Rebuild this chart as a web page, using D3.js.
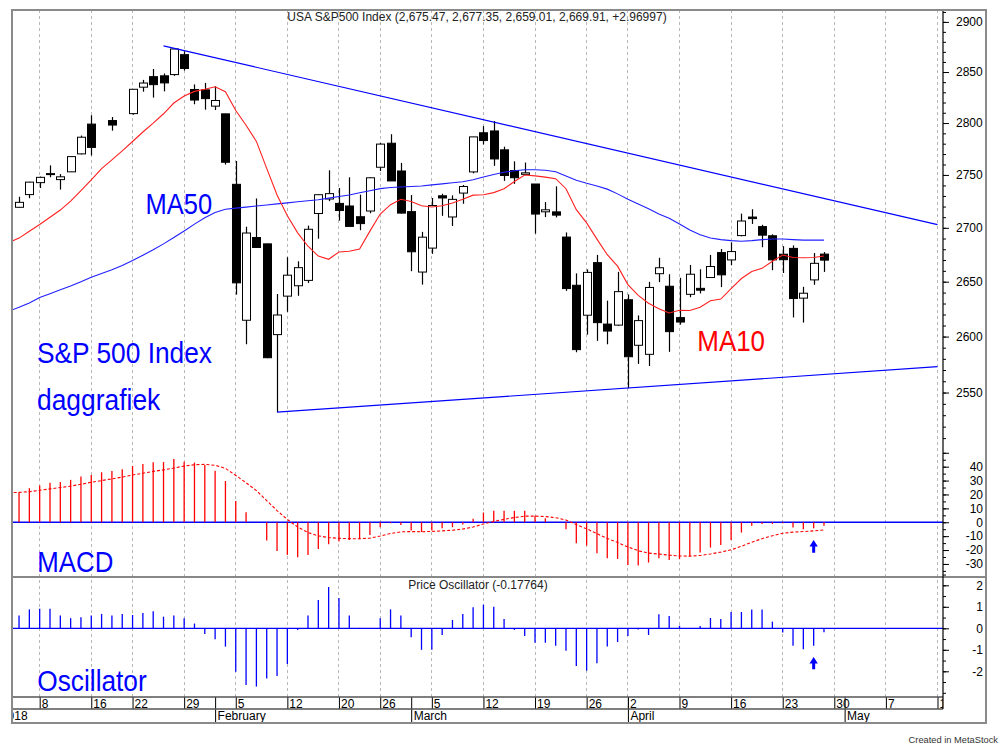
<!DOCTYPE html>
<html>
<head>
<meta charset="utf-8">
<script src="https://d3js.org/d3.v7.min.js"></script>
<style>
body { margin: 0; background: #fff; }
svg { display: block; }
</style>
</head>
<body>
<svg id="chart" width="1000" height="752"></svg>
<script>
// trading days shown on the time axis (2018), per month
var tradingDays = [
  [0, [2,3,4,5,8,9,10,11,12,16,17,18,19,22,23,24,25,26,29,30,31]],
  [1, [1,2,5,6,7,8,9,12,13,14,15,16,20,21,22,23,26,27,28]],
  [2, [1,2,5,6,7,8,9,12,13,14,15,16,19,20,21,22,23,26,27,28,29]],
  [3, [2,3,4,5,6,9,10,11,12,13,16,17,18,19,20,23,24,25,26,27,30]],
  [4, [1,2,3,4,7,8,9,10,11,14]]
];
var monthLabels = ["2018", "February", "March", "April", "May"];

// daily series, Jan 3 .. Apr 27 (null = not drawn)
var openV = [null,2719.31,2731.33,2742.67,2751.15,2745.55,2752.97,2770.18,2798.96,null,2802.40,null,2809.16,2835.05,2845.42,2846.24,2847.48,2867.23,2832.74,2832.41,
  2816.45,2808.92,2741.06,2614.78,2690.95,2685.01,2601.78,2636.75,2646.27,2651.21,2713.46,2727.14,2722.99,2720.53,2710.42,2715.80,2757.37,2780.45,2753.78,
  2715.22,2658.89,2681.06,2730.18,2710.18,2732.75,2752.91,2790.54,2792.31,2774.06,2754.27,2750.57,2741.38,2715.05,2714.99,2691.36,2646.71,2619.35,2667.57,2611.30,2610.37,
  2633.45,2592.17,2584.04,2657.36,2645.82,2617.18,2638.41,2643.89,2653.83,2676.90,2670.10,2692.74,2710.11,2701.16,2692.56,2675.40,2680.80,2634.92,2651.65,2675.47];
var highV = [null,2729.29,2743.45,2748.51,2759.14,2750.80,2767.56,2787.85,2807.54,null,2805.83,null,2833.03,2842.24,2852.97,2848.56,2872.87,2870.62,2837.75,2839.26,
  2835.96,2808.92,2763.39,2701.04,2727.67,2685.27,2638.67,2672.61,2668.84,2702.10,2731.51,2754.42,2737.60,2747.75,2731.26,2747.76,2780.64,2789.15,2761.52,
  2730.89,2696.25,2728.09,2732.08,2730.60,2740.45,2786.57,2796.98,2801.90,2777.11,2763.03,2761.85,2741.38,2724.22,2739.14,2695.68,2657.67,2661.36,2674.78,2632.65,2659.07,
  2638.30,2619.14,2649.86,2672.08,2656.88,2653.55,2665.45,2661.43,2674.72,2680.26,2686.49,2713.34,2717.49,2702.84,2693.94,2682.86,2683.55,2645.30,2676.48,2677.35];
var lowV = [null,2719.07,2727.92,2737.60,2747.86,2736.06,2752.78,2769.64,2768.64,null,2792.56,null,2808.12,2830.59,2824.81,2830.94,2846.18,2851.48,2818.27,2813.04,
  2812.70,2759.97,2638.17,2593.07,2681.33,2580.56,2532.69,2622.45,2637.08,2648.87,2689.82,2725.11,2706.76,2701.29,2697.77,2713.74,2753.78,2744.22,2713.54,
  2659.65,2647.32,2675.75,2711.26,2701.74,2722.65,2751.54,2779.26,2758.68,2744.38,2741.47,2749.97,2694.59,2710.05,2709.79,2641.59,2585.89,2601.81,2596.12,2593.06,2609.72,
  2553.80,2575.49,2573.61,2649.58,2586.27,2610.79,2635.78,2639.25,2653.83,2645.05,2665.16,2692.05,2703.63,2681.90,2660.61,2657.99,2617.32,2612.67,2647.16,2659.01];
var closeV = [null,2723.99,2743.15,2747.71,2751.29,2748.23,2767.56,2786.24,2776.42,null,2798.03,null,2832.97,2839.13,2837.54,2839.25,2872.87,2853.53,2822.43,2823.81,
  2821.98,2762.13,2648.94,2695.14,2681.66,2581.00,2619.55,2656.00,2662.94,2698.63,2731.20,2732.22,2716.26,2701.33,2703.96,2747.30,2779.60,2744.28,2713.83,
  2677.67,2691.25,2720.94,2728.12,2726.80,2738.97,2786.57,2783.02,2765.31,2749.48,2747.33,2752.01,2712.92,2716.94,2711.93,2643.69,2588.26,2658.55,2612.62,2605.00,2640.87,
  2581.88,2614.45,2644.69,2662.84,2604.47,2613.16,2656.87,2642.19,2663.99,2656.30,2677.84,2706.39,2708.64,2693.13,2670.14,2670.29,2634.56,2639.40,2666.94,2669.91];
var ma10 = [2686.2,2690.4,2696.8,2703.1,2709.9,2716.7,2725.2,2735.1,2745.3,2756.0,2764.5,2773.1,2782.1,2791.3,2799.9,2809.0,2819.5,2826.3,2830.9,2833.0,
  2835.4,2830.6,2812.2,2797.8,2782.2,2756.3,2731.0,2711.3,2695.3,2682.8,2673.7,2670.7,2677.5,2678.1,2680.3,2696.9,2712.9,2721.8,2726.9,
  2724.8,2720.8,2719.6,2720.8,2723.4,2726.9,2730.8,2731.1,2733.2,2736.8,2743.8,2749.9,2749.1,2747.9,2746.4,2736.9,2717.1,2704.6,2689.4,2674.9,2664.3,
  2647.3,2637.4,2630.2,2625.3,2621.4,2623.9,2623.7,2626.6,2632.5,2634.1,2643.7,2652.9,2659.3,2662.3,2668.9,2674.6,2672.3,2672.1,2672.4,2673.7];
var ma50 = [2623,2626.5,2630.5,2635.5,2639,2642.5,2646,2650,2654,2657.5,2661,2665,2669.5,2674.5,2679.5,2685,2691,2697,2703.5,2709.5,
  2714.5,2717.5,2718.5,2719.5,2720.5,2721.5,2722.5,2723.5,2724.5,2725.5,2726.5,2728,2729.5,2731,2733,2735,2737,2738,2738.5,
  2739,2739.5,2740.5,2741.5,2742.5,2743.5,2745.5,2748,2750.5,2752.5,2754,2755,2755,2754.5,2753,2749,2745,2742,2739.5,2736.5,2732,
  2727,2722.5,2718,2713,2709,2703.5,2698,2693.5,2690.5,2689,2688,2687.5,2688,2689,2689.5,2689.5,2689,2688.5,2688.5,2688.5];
var macd = [null,21.6,24.5,26.4,28.5,29.0,30.5,32.9,34.0,36.0,36.9,38.1,40.5,42.0,43.2,43.4,45.6,43.5,42.9,41.2,
  37.0,29.7,15.3,7.2,0.3,-13.2,-20.6,-23.5,-25.2,-23.5,-19.2,-15.8,-13.9,-12.7,-12.2,-9.1,-3.6,-0.7,-1.9,
  -6.0,-7.0,-6.0,-4.3,-3.6,-1.7,2.6,7.0,8.2,8.2,8.2,8.2,4.6,2.9,0.3,-5.0,-15.1,-16.8,-22.3,-25.9,-26.4,
  -30.7,-31.2,-29.0,-25.9,-27.1,-26.6,-24.7,-21.8,-18.2,-16.3,-12.7,-7.4,-2.6,-1.2,-1.2,-0.7,-3.8,-5.0,-4.3,-2.6];
var signal = [21.3,21.5,22.0,23.0,24.0,25.0,26.0,27.3,28.8,30.0,31.2,32.5,34.0,35.3,36.6,37.7,39.0,40.5,41.4,41.7,
  41.0,38.8,33.7,28.4,22.8,15.6,8.4,2.0,-3.4,-7.4,-9.8,-11.0,-11.6,-11.8,-11.9,-11.4,-9.9,-8.1,-6.9,
  -6.7,-6.8,-6.6,-6.2,-5.7,-4.9,-3.4,-1.3,0.6,2.1,3.4,4.4,4.4,4.1,3.3,1.6,-1.7,-4.7,-8.2,-11.7,-14.6,
  -17.8,-20.5,-22.2,-22.9,-23.7,-24.3,-24.4,-23.9,-22.8,-21.5,-19.8,-17.3,-14.4,-11.8,-9.7,-7.9,-7.1,-6.7,-6.2,-5.5];
var priceOsc = [null,0.59,0.88,0.91,0.91,0.59,0.47,0.51,0.60,0.67,0.59,0.67,0.62,0.71,0.79,0.54,0.59,0.47,0.22,-0.26,
  -0.51,-0.85,-2.02,-2.64,-2.71,-2.34,-2.22,-1.66,-0.08,0.59,1.32,1.92,1.41,0.59,0.02,-0.03,0.47,0.88,0.59,
  -0.42,-1.00,-1.00,-0.31,0.39,0.67,0.98,1.10,1.00,0.43,-0.08,-0.36,-0.67,-0.67,-0.81,-1.04,-1.75,-1.97,-1.63,-0.85,-0.64,
  -0.36,-0.05,-0.31,0.65,0.57,0.12,0.01,0.11,0.48,0.43,0.76,0.76,0.88,0.88,0.31,-0.19,-0.81,-0.98,-0.81,-0.18];

// trend lines and arrows
var trendUpper = [["2018-01-25", 2876], ["2018-05-14", 2703]];
var trendLower = [["2018-02-09", 2532.7], ["2018-05-14", 2573]];
var arrowMacd = ["2018-04-26", -12.7, -21.9];
var arrowOsc = ["2018-04-26", -1.33, -1.91];

// ticks
var priceMajor = d3.range(2550, 2901, 50);
var priceMinor = d3.range(2510, 2911, 10);
var macdMajor = d3.range(-30, 51, 10);
var macdMinor = d3.range(-35, 51, 5);
var oscMajor = [-2, -1, 0, 1, 2];
var oscMinor = d3.range(-3, 2.51, 0.5);

var FONT = "'Liberation Sans', Arial, Helvetica, sans-serif";
var L = 12, R = 943, FR = 986, T = 10, FB = 723;
var pBot = 445, mBot = 577, oBot = 697, row1 = 709;

var days = [];
tradingDays.forEach(function(m) { m[1].forEach(function(d) { days.push(new Date(2018, m[0], d)); }); });
var fmt = d3.timeFormat("%Y-%m-%d");
var dayKeys = days.map(fmt);
var dataKeys = dayKeys.slice(1, 81);

var x = d3.scalePoint().domain(dayKeys).range([-1.6, 937.5]);
var yP = d3.scaleLog().domain([2504, 2912]).range([pBot, T]);
var yM = d3.scaleLinear().domain([-39.4, 55.6]).range([mBot, pBot]);
var yO = d3.scaleLinear().domain([-3.195, 2.386]).range([oBot, mBot]);

var svg = d3.select("#chart").attr("font-family", FONT);
var defs = svg.append("defs");
function clip(id, x0, y0, w, h) {
  defs.append("clipPath").attr("id", id).append("rect").attr("x", x0).attr("y", y0).attr("width", w).attr("height", h);
}
clip("cPlot", L, T, R - L, oBot - T);
clip("cPrice", L, T, R - L, pBot - T);
clip("cMacd", L, pBot, R - L, mBot - pBot);
clip("cOsc", L, mBot, R - L, oBot - mBot);
clip("cAxis", L, oBot, R - L, FB - oBot);

var weekStarts = dayKeys.filter(function(k, i) { return i === 0 || days[i].getDay() < days[i - 1].getDay(); });
var monthStarts = dayKeys.filter(function(k, i) { return i === 0 || days[i].getMonth() !== days[i - 1].getMonth(); });

// vertical grid
svg.append("g").attr("clip-path", "url(#cPlot)").selectAll("line").data(weekStarts).join("line")
  .attr("x1", function(d) { return x(d); }).attr("x2", function(d) { return x(d); })
  .attr("y1", T).attr("y2", oBot)
  .attr("stroke", "#b8b8b8").attr("stroke-dasharray", "3,3").attr("shape-rendering", "crispEdges");

// zero lines
[yM, yO].forEach(function(s) {
  svg.append("line").attr("x1", L).attr("x2", R).attr("y1", s(0)).attr("y2", s(0))
    .attr("stroke", "#0000ff").attr("stroke-width", 1.3);
});

// MACD histogram + signal
var gM = svg.append("g").attr("clip-path", "url(#cMacd)");
gM.selectAll("line").data(dataKeys.map(function(k, i) { return [k, macd[i]]; }).filter(function(d) { return d[1] != null; }))
  .join("line")
  .attr("x1", function(d) { return x(d[0]); }).attr("x2", function(d) { return x(d[0]); })
  .attr("y1", yM(0)).attr("y2", function(d) { return yM(d[1]); })
  .attr("stroke", "#ff0000").attr("stroke-width", 1.3);
gM.append("path")
  .datum(dataKeys.map(function(k, i) { return [k, signal[i]]; }))
  .attr("d", d3.line().x(function(d) { return x(d[0]); }).y(function(d) { return yM(d[1]); }))
  .attr("fill", "none").attr("stroke", "#ff0000").attr("stroke-width", 1.1).attr("stroke-dasharray", "3,2");

// price oscillator histogram
var gO = svg.append("g").attr("clip-path", "url(#cOsc)");
gO.selectAll("line").data(dataKeys.map(function(k, i) { return [k, priceOsc[i]]; }).filter(function(d) { return d[1] != null; }))
  .join("line")
  .attr("x1", function(d) { return x(d[0]); }).attr("x2", function(d) { return x(d[0]); })
  .attr("y1", yO(0)).attr("y2", function(d) { return yO(d[1]); })
  .attr("stroke", "#0000ff").attr("stroke-width", 1.3);

// candles
var candles = dataKeys.map(function(k, i) {
  return { k: k, o: openV[i], h: highV[i], l: lowV[i], c: closeV[i] };
}).filter(function(c) { return c.o != null; });
var gP = svg.append("g").attr("clip-path", "url(#cPrice)");
gP.append("g").selectAll("line").data(candles).join("line")
  .attr("x1", function(d) { return Math.round(x(d.k)) + 0.5; }).attr("x2", function(d) { return Math.round(x(d.k)) + 0.5; })
  .attr("y1", function(d) { return yP(d.h); }).attr("y2", function(d) { return yP(d.l); })
  .attr("stroke", "#000").attr("stroke-width", 1.2);
gP.append("g").selectAll("rect").data(candles).join("rect")
  .attr("x", function(d) { return Math.round(x(d.k)) - 3.5; })
  .attr("width", 8)
  .attr("y", function(d) { return yP(Math.max(d.o, d.c)); })
  .attr("height", function(d) { return Math.max(1, Math.abs(yP(d.o) - yP(d.c))); })
  .attr("fill", function(d) { return d.c > d.o ? "#fff" : "#000"; })
  .attr("stroke", "#000").attr("stroke-width", 1);

// moving averages and trend lines
var line = d3.line().x(function(d) { return x(d[0]); }).y(function(d) { return yP(d[1]); });
gP.append("path").datum(dataKeys.map(function(k, i) { return [k, ma50[i]]; }))
  .attr("d", line).attr("fill", "none").attr("stroke", "#2020ff").attr("stroke-width", 1.1);
gP.append("path").datum(dataKeys.map(function(k, i) { return [k, ma10[i]]; }))
  .attr("d", line).attr("fill", "none").attr("stroke", "#ff2020").attr("stroke-width", 1.1);
[trendUpper, trendLower].forEach(function(t) {
  gP.append("path").datum(t).attr("d", line).attr("fill", "none").attr("stroke", "#0000ff").attr("stroke-width", 1.2);
});

// arrows
[[arrowMacd, yM], [arrowOsc, yO]].forEach(function(a) {
  var cx = x(a[0][0]), top = a[1](a[0][1]), bot = a[1](a[0][2]), hb = top + 6.5;
  svg.append("path")
    .attr("d", "M" + (cx - 4.2) + "," + hb + "L" + cx + "," + top + "L" + (cx + 4.2) + "," + hb +
      "L" + (cx + 1.5) + "," + hb + "L" + (cx + 1.5) + "," + bot + "L" + (cx - 1.5) + "," + bot + "L" + (cx - 1.5) + "," + hb + "Z")
    .attr("fill", "#0000ff");
});

// right axes
function styleAxis(g) {
  g.attr("font-size", 12).attr("font-family", FONT).attr("color", "#000");
  g.select(".domain").remove();
}
var gPA = svg.append("g").attr("transform", "translate(" + R + ",0)");
gPA.append("g").call(d3.axisRight(yP).tickValues(priceMinor).tickSize(3).tickFormat("")).call(styleAxis);
gPA.append("g").call(d3.axisRight(yP).tickValues(priceMajor).tickSize(6).tickPadding(7).tickFormat(d3.format("d"))).call(styleAxis);

var gMA = svg.append("g").attr("transform", "translate(" + R + ",0)");
gMA.append("g").call(d3.axisRight(yM).tickValues(macdMinor).tickSize(3).tickFormat("")).call(styleAxis);
gMA.append("g").call(d3.axisRight(yM).tickValues(macdMajor).tickSize(6)
  .tickFormat(function(d) { return d === 50 ? "" : String(d); })).call(styleAxis)
  .selectAll("text").attr("x", 40).attr("text-anchor", "end");

var gOA = svg.append("g").attr("transform", "translate(" + R + ",0)");
gOA.append("g").call(d3.axisRight(yO).tickValues(oscMinor).tickSize(3).tickFormat("")).call(styleAxis);
gOA.append("g").call(d3.axisRight(yO).tickValues(oscMajor).tickSize(6).tickFormat(function(d) { return String(d); })).call(styleAxis)
  .selectAll("text").attr("x", 40).attr("text-anchor", "end");

// time axis rows
var gX = svg.append("g").attr("clip-path", "url(#cAxis)");
gX.append("g").attr("transform", "translate(0," + oBot + ")")
  .call(d3.axisBottom(x).tickValues(weekStarts).tickSize(12).tickSizeOuter(0)
    .tickFormat(function(k) { return String(+k.slice(8)); }))
  .call(styleAxis)
  .selectAll("text").attr("x", 1.5).attr("y", 11).attr("dy", null).attr("text-anchor", "start");
gX.append("g").attr("transform", "translate(0," + oBot + ")")
  .call(d3.axisBottom(x).tickValues(monthStarts).tickSize(26).tickSizeOuter(0)
    .tickFormat(function(k, i) { return monthLabels[i]; }))
  .call(styleAxis)
  .selectAll("text").attr("x", 2).attr("y", 23).attr("dy", null).attr("text-anchor", "start");

// frame and separators
svg.append("line").attr("x1", L).attr("x2", R).attr("y1", oBot).attr("y2", oBot).attr("stroke", "#555").attr("stroke-width", 1.5);
svg.append("line").attr("x1", L).attr("x2", R).attr("y1", row1).attr("y2", row1).attr("stroke", "#555").attr("stroke-width", 1.5);
svg.append("line").attr("x1", L).attr("x2", FR).attr("y1", mBot).attr("y2", mBot).attr("stroke", "#888").attr("stroke-width", 2);
svg.append("line").attr("x1", R).attr("x2", R).attr("y1", T).attr("y2", row1).attr("stroke", "#000").attr("stroke-width", 1.2);
svg.append("rect").attr("x", L).attr("y", T).attr("width", FR - L).attr("height", FB - T)
  .attr("fill", "none").attr("stroke", "#8a8a8a").attr("stroke-width", 2);

// titles
svg.append("text").attr("x", 477).attr("y", 21).attr("text-anchor", "middle").attr("font-size", 12).attr("fill", "#222")
  .text("USA S&P500 Index (2,675.47, 2,677.35, 2,659.01, 2,669.91, +2.96997)");
svg.append("text").attr("x", 478).attr("y", 588.5).attr("text-anchor", "middle").attr("font-size", 12).attr("fill", "#222")
  .text("Price Oscillator (-0.17764)");
svg.append("text").attr("x", 998).attr("y", 743).attr("text-anchor", "end").attr("font-size", 9.3).attr("fill", "#333")
  .text("Created in MetaStock");

// big annotations
var notes = [
  ["MA50", 145.5, 214, 66.6, "#0000ff"],
  ["S&P 500 Index", 37, 362.7, 175, "#0000ff"],
  ["daggrafiek", 37, 409.5, 123.3, "#0000ff"],
  ["MA10", 697.3, 350.7, 67.7, "#ff0000"],
  ["MACD", 37.3, 572.3, 76, "#0000ff"],
  ["Oscillator", 37.3, 690.5, 109.4, "#0000ff"]
];
svg.append("g").selectAll("text").data(notes).join("text")
  .attr("x", function(d) { return d[1]; }).attr("y", function(d) { return d[2]; })
  .attr("textLength", function(d) { return d[3]; }).attr("lengthAdjust", "spacingAndGlyphs")
  .attr("font-size", 30).attr("fill", function(d) { return d[4]; })
  .text(function(d) { return d[0]; });
</script>
</body>
</html>
